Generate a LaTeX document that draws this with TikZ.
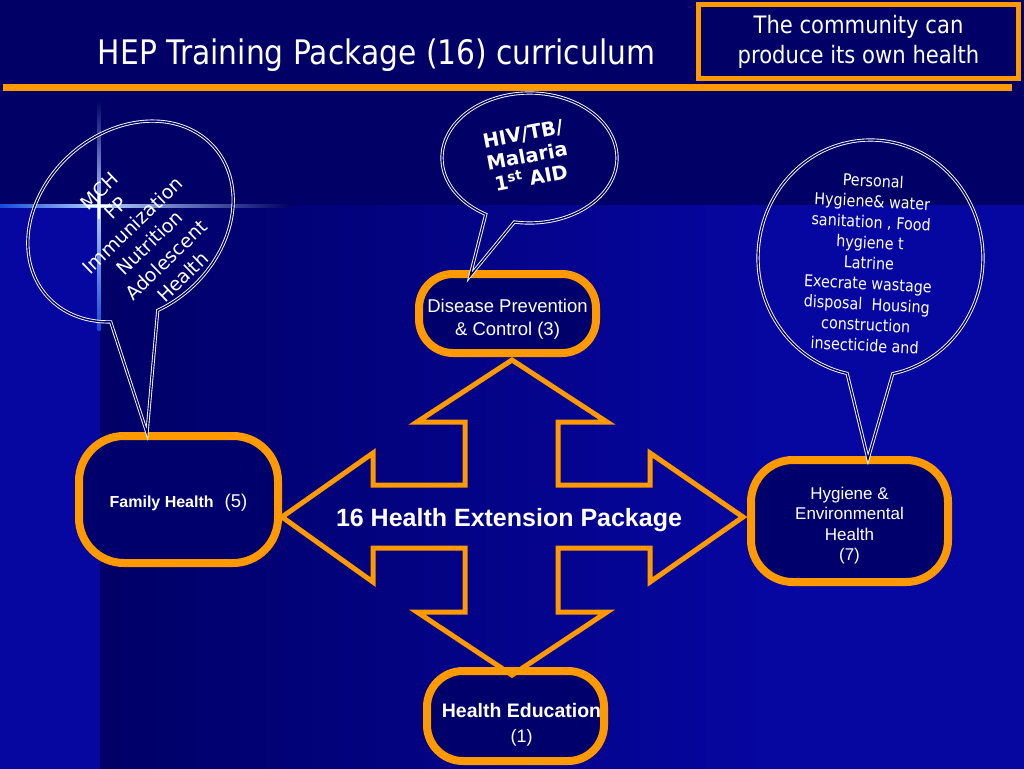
\documentclass[tikz,border=0pt]{standalone}
\usepackage{fontspec}
\setmainfont{Liberation Sans}
\newfontfamily\tahoma[FakeStretch=0.88]{DejaVu Sans}
\newfontfamily\verdana{DejaVu Sans}
\definecolor{bgdark}{HTML}{000066}
\definecolor{bglight}{HTML}{0606A0}
\definecolor{boxfill}{HTML}{00006C}
\definecolor{hepor}{HTML}{FF9900}
\definecolor{flareA}{HTML}{1848D8}
\definecolor{flareB}{HTML}{B0D0FF}
\begin{document}
\begin{tikzpicture}[x=1pt,y=-1pt,
  hepbox/.style={draw=hepor, line width=8pt, fill=boxfill, inner sep=0pt,
    text=white, align=center},
  bubble/.style={draw=white, line width=0.9pt, double=bgdark, double distance=1.4pt, line join=miter},
  crossarrow/.style={draw=hepor, line width=5pt, line join=miter},
  wtext/.style={text=white, inner sep=0pt, align=center}]
\useasboundingbox (0,0) rectangle (1024,768);
% background
\fill[bgdark] (-5,-5) rectangle (1030,775);
\fill[bglight] (-5,205) rectangle (100,775);
\shade[left color=bgdark, right color=bglight] (100,205) rectangle (760,775);
\fill[bglight] (759.5,205) rectangle (1030,775);
% flare
\shade[left color=flareA, right color=flareB] (0,204.5) rectangle (99,207.5);
\shade[left color=flareB, right color=bgdark] (99,204.5) rectangle (290,207.5);
\shade[top color=bgdark, bottom color=flareB] (97.5,100) rectangle (100.5,206);
\shade[top color=flareB, bottom color=flareA] (97.5,206) rectangle (100.5,330);
\draw[white, line width=1.2pt] (86,206) -- (112,206) (99,193) -- (99,219);
\fill[white] (99,206) circle (2.5);
% header
\node[wtext, font=\tahoma\fontsize{33.8}{40}\selectfont, anchor=base] (title) at (376.5,64) {HEP Training Package (16) curriculum};
\draw[hepor, line width=7pt] (3,87) coordinate (barL) -- (1012,87) coordinate (barR);
\node[draw=hepor, line width=5pt, fill=bgdark, minimum width=320, minimum height=74, inner sep=0pt,
  text=white, align=center, font=\tahoma\fontsize{24}{30}\selectfont] (motto) at (858.5,41.5)
  {The community can\\produce its own health};
% boxes
\node[hepbox, minimum width=199, minimum height=127, rounded corners=45pt] (fam) at (178.5,499.5)
  {\rule{0pt}{19pt}{\bfseries\fontsize{16}{19}\selectfont Family Health}\hspace{11pt}{\fontsize{18.5}{22}\selectfont (5)}};
\node[hepbox, minimum width=177, minimum height=79, rounded corners=34pt,
  font=\fontsize{18.5}{23.5}\selectfont] (dis) at (507.5,313.5) {\rule{0pt}{25pt}Disease Prevention\\\& Control (3)};
\node[hepbox, minimum width=197, minimum height=122, rounded corners=42pt,
  font=\fontsize{17}{20.5}\selectfont] (hyg) at (849.5,521) {\rule{0pt}{21.5pt}Hygiene \&\\Environmental\\Health\\(7)};
\node[hepbox, minimum width=177, minimum height=90, rounded corners=36pt,
  font=\fontsize{19.5}{25}\selectfont] (hed) at (515.5,716) {\rule{0pt}{31.5pt}\hspace*{12pt}\textbf{Health Education}\\\hspace*{12pt}{\fontsize{18}{25}\selectfont(1)}};
% central cross arrow
\draw[crossarrow] (512,360) -- (607,422) -- (558,422) -- (558,485) -- (650,485) -- (650,453)
  -- (743,517) -- (650,582) -- (650,548) -- (558,548) -- (558,612) -- (607,612) -- (512,675)
  -- (417,612) -- (465,612) -- (465,548) -- (373,548) -- (373,582) -- (282,517) -- (373,453)
  -- (373,485) -- (465,485) -- (465,422) -- (417,422) -- cycle;
\node[wtext, font=\bfseries\fontsize{25}{30}\selectfont] (hep) at (509,520) {16 Health Extension Package};
% bubble tips
\coordinate (tipL) at (147,433);
\coordinate (tipM) at (470,276);
\coordinate (tipR) at (868,459);
% left bubble
\draw[bubble] plot[domain=137:470.5, samples=160, variable=\t]
  ({130.5 + 83.2*cos(\t) + 60.2*sin(\t)}, {221.5 - 74.9*cos(\t) + 66.9*sin(\t)}) -- (tipL) -- cycle;
\node[wtext, rotate=44, font=\verdana\fontsize{19}{24}\selectfont] (bubL) at (141,234)
  {MCH\\FP\\Immunization\\Nutrition\\Adolescent\\Health};
% middle bubble
\draw[bubble] plot[domain=120:460, samples=160, variable=\t]
  ({529.5 + 87.5*cos(\t)}, {158 + 65*sin(\t)}) -- (tipM) -- cycle;
\node[wtext, rotate=10.6, font=\verdana\bfseries\fontsize{19.5}{22.5}\selectfont] (bubM) at (527,156)
  {HIV/TB/\\Malaria\\1\textsuperscript{st} AID};
% right bubble
\draw[bubble] plot[domain=102:438.6, samples=160, variable=\t]
  ({870.5 + 112.5*cos(\t)}, {258 + 118*sin(\t)}) -- (tipR) -- cycle;
\node[wtext, rotate=-3, font=\tahoma\fontsize{16.3}{20.6}\selectfont] (bubR) at (869,263)
  {Personal\\Hygiene\& water\\sanitation , Food\\hygiene t\\Latrine\\Execrate wastage\\disposal~~Housing\\construction\\insecticide and};
\end{tikzpicture}
\end{document}
